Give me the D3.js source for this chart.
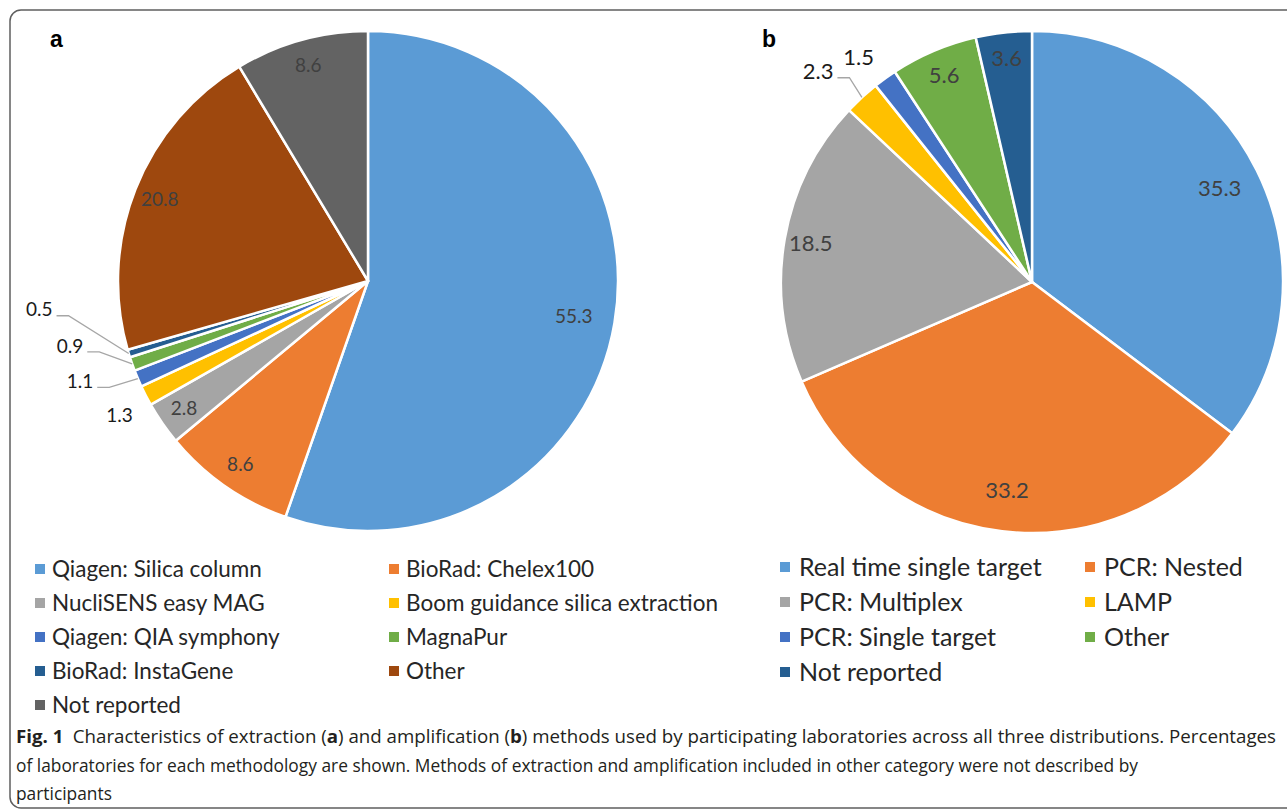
<!DOCTYPE html>
<html>
<head>
<meta charset="utf-8">
<script src="https://cdn.jsdelivr.net/npm/d3@7"></script>
<style>
  body { margin: 0; background: #fff; }
  .sliceLb { font-family: Lato, "Open Sans", sans-serif; }
  .legendLb { font-family: Lato, "Open Sans", sans-serif; fill: #262626; }
  .caption { font-family: "Open Sans", sans-serif; font-size: 18px; fill: #231f20; }
</style>
</head>
<body>
<div id="main"></div>
<script>
// panel a: extraction methods (%)
var extractionLabels = ["Qiagen: Silica column", "BioRad: Chelex100", "NucliSENS easy MAG",
    "Boom guidance silica extraction", "Qiagen: QIA symphony", "MagnaPur",
    "BioRad: InstaGene", "Other", "Not reported"];
var extractionValues = [55.3, 8.6, 2.8, 1.3, 1.1, 0.9, 0.5, 20.8, 8.6];

// panel b: amplification methods (%)
var amplificationLabels = ["Real time single target", "PCR: Nested", "PCR: Multiplex", "LAMP",
    "PCR: Single target", "Other", "Not reported"];
var amplificationValues = [35.3, 33.2, 18.5, 2.3, 1.5, 5.6, 3.6];

var extractionColors = ["#5B9BD5", "#ED7D31", "#A5A5A5", "#FFC000", "#4472C4",
                        "#70AD47", "#255E91", "#9E480E", "#636363"];
var amplificationColors = ["#5B9BD5", "#ED7D31", "#A5A5A5", "#FFC000", "#4472C4",
                           "#70AD47", "#255E91"];

var ctx = {
    w: 1287,
    h: 812,
};

// small slices get their label outside; polar placement (factor of radius, angle in deg)
var panels = [
    {id: "a", cx: 368, cy: 281, r: 250, fontSize: 19,
     labels: extractionLabels, values: extractionValues, colors: extractionColors,
     outside: {3: {f: 1.13, a: 241.6, leader: false},
               4: {f: 1.22, a: 250.8, leader: true},
               5: {f: 1.22, a: 257.7, leader: true},
               6: {f: 1.32, a: 265.0, leader: true}},
     legend: {x: [35, 389], y0: 569, dy: 34, size: 22.5, gap: 17}},
    {id: "b", cx: 1032, cy: 282, r: 251, fontSize: 22,
     labels: amplificationLabels, values: amplificationValues, colors: amplificationColors,
     outside: {3: {f: 1.195, a: 314.5, leader: true},
               4: {f: 1.13, a: 322.3, leader: false}},
     legend: {x: [780, 1085], y0: 567, dy: 35, size: 25, gap: 19}}
];

var polar = function(cx, cy, rad, ang){
    return [cx + rad*Math.sin(ang), cy - rad*Math.cos(ang)];
};

var drawPie = function(svgEl, p){
    var g = svgEl.append("g").attr("id", "pie_" + p.id);
    var pie = d3.pie().sort(null).value(function(d){return d;});
    var arcs = pie(p.values);
    var arcGen = d3.arc().innerRadius(0).outerRadius(p.r);
    var color = d3.scaleOrdinal().domain(p.labels).range(p.colors);

    g.selectAll("path")
     .data(arcs)
     .enter()
     .append("path")
     .attr("transform", `translate(${p.cx},${p.cy})`)
     .attr("d", arcGen)
     .attr("fill", function(d, i){return color(p.labels[i]);})
     .attr("stroke", "#fff")
     .attr("stroke-width", 2.5)
     .attr("stroke-linejoin", "round");

    arcs.forEach(function(d, i){
        var mid = (d.startAngle + d.endAngle)/2;
        var out = p.outside[i];
        var pos;
        if (out){
            pos = polar(p.cx, p.cy, p.r*out.f, out.a*Math.PI/180);
        } else {
            pos = polar(p.cx, p.cy, p.r*(d.value > 30 ? 0.835 : 0.895), mid);
        }
        var t = g.append("text")
          .classed("sliceLb", true)
          .attr("x", pos[0])
          .attr("y", pos[1])
          .attr("dy", "0.35em")
          .attr("text-anchor", "middle")
          .style("font-size", p.fontSize + "px")
          .style("fill", out ? "#1a1a1a" : "#404040")
          .text(d.value);
        if (out && out.leader){
            var bb = t.node().getBBox();
            var edge = polar(p.cx, p.cy, p.r, mid);
            var y1 = pos[1] + 6;
            var x1 = bb.x + bb.width + 4;
            g.append("polyline")
              .attr("points", [[x1, y1], [x1 + 12, y1], edge].map(function(q){return q.join(",");}).join(" "))
              .attr("fill", "none")
              .attr("stroke", "#a6a6a6")
              .attr("stroke-width", 1.3);
        }
    });

    // legend, two columns
    var lg = svgEl.append("g").attr("id", "legend_" + p.id);
    p.labels.forEach(function(lb, i){
        var col = i % 2, row = Math.floor(i/2);
        var x = p.legend.x[col], y = p.legend.y0 + row*p.legend.dy;
        lg.append("rect")
          .attr("x", x).attr("y", y - 5)
          .attr("width", 10).attr("height", 10)
          .attr("fill", color(lb));
        lg.append("text")
          .classed("legendLb", true)
          .attr("x", x + p.legend.gap)
          .attr("y", y)
          .attr("dy", "0.35em")
          .style("font-size", p.legend.size + "px")
          .text(lb);
    });

    // panel letter
    svgEl.append("text")
      .attr("x", p.id == "a" ? 50 : 762)
      .attr("y", 47)
      .style("font-family", "'Liberation Sans', Arial, sans-serif")
      .style("font-weight", "bold")
      .style("font-size", "23px")
      .text(p.id);
};

var drawCaption = function(svgEl){
    var l1 = svgEl.append("text").classed("caption", true)
      .attr("x", 16).attr("y", 743);
    l1.append("tspan").style("font-weight", "bold").text("Fig. 1");
    l1.append("tspan").text("\u2002Characteristics of extraction (");
    l1.append("tspan").style("font-weight", "bold").text("a");
    l1.append("tspan").text(") and amplification (");
    l1.append("tspan").style("font-weight", "bold").text("b");
    l1.append("tspan").text(") methods used by participating laboratories across all three distributions. Percentages");
    var l2 = svgEl.append("text").classed("caption", true)
      .attr("x", 16).attr("y", 772)
      .text("of laboratories for each methodology are shown. Methods of extraction and amplification included in other category were not described by");
    var l3 = svgEl.append("text").classed("caption", true)
      .attr("x", 16).attr("y", 800)
      .text("participants");
    // condensed face in the original; the first line is justified to full width
    var ratio = 1122 / l2.node().getComputedTextLength();
    [l2, l3].forEach(function(l){
        l.attr("textLength", l.node().getComputedTextLength()*ratio)
         .attr("lengthAdjust", "spacingAndGlyphs");
    });
    l1.attr("textLength", 1260).attr("lengthAdjust", "spacingAndGlyphs");
};

var createViz = function(){
    var svgEl = d3.select("#main").append("svg")
      .attr("width", ctx.w)
      .attr("height", ctx.h);
    // frame (right side runs off the picture)
    svgEl.append("rect")
      .attr("x", 10).attr("y", 10)
      .attr("width", 1300).attr("height", 798)
      .attr("rx", 11)
      .attr("fill", "none")
      .attr("stroke", "#5f5f5f")
      .attr("stroke-width", 1.5);
    panels.forEach(function(p){drawPie(svgEl, p);});
    drawCaption(svgEl);
};

createViz();
</script>
</body>
</html>
